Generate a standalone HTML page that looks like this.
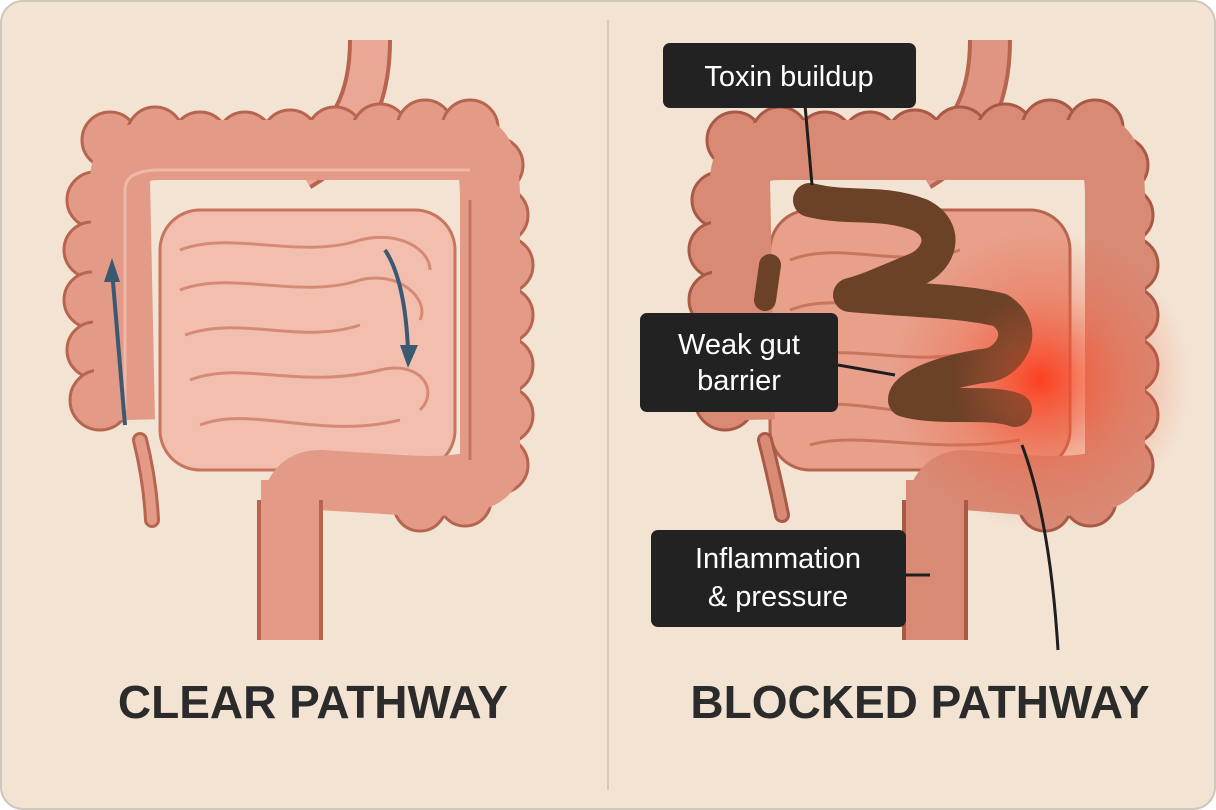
<!DOCTYPE html>
<html><head><meta charset="utf-8"><style>
html,body{margin:0;padding:0;background:#fff;}
svg{display:block}
</style></head><body>
<svg width="1216" height="810" viewBox="0 0 1216 810" xmlns="http://www.w3.org/2000/svg" font-family="Liberation Sans, sans-serif">
<defs>
<radialGradient id="glow" cx="0.5" cy="0.5" r="0.5">
<stop offset="0" stop-color="#ff3a1a" stop-opacity="0.85"/>
<stop offset="0.5" stop-color="#f06040" stop-opacity="0.4"/>
<stop offset="1" stop-color="#f06040" stop-opacity="0"/>
</radialGradient>
<g id="bumpsL">
<circle cx="110" cy="140" r="28"/><circle cx="155" cy="135" r="28"/><circle cx="200" cy="140" r="28"/><circle cx="245" cy="140" r="28"/><circle cx="290" cy="138" r="28"/><circle cx="335" cy="135" r="28"/><circle cx="380" cy="132" r="28"/><circle cx="425" cy="128" r="28"/><circle cx="470" cy="128" r="28"/><circle cx="495" cy="165" r="28"/>
<circle cx="95" cy="200" r="28"/><circle cx="92" cy="250" r="28"/><circle cx="92" cy="300" r="28"/><circle cx="95" cy="350" r="28"/><circle cx="100" cy="400" r="30"/>
<circle cx="500" cy="215" r="28"/><circle cx="505" cy="265" r="28"/><circle cx="505" cy="315" r="28"/><circle cx="505" cy="365" r="28"/><circle cx="505" cy="415" r="28"/><circle cx="500" cy="465" r="28"/><circle cx="465" cy="500" r="26"/><circle cx="420" cy="505" r="26"/>
</g>
</defs>
<rect x="1" y="1" width="1214" height="808" rx="22" fill="#f3e3d3" stroke="#cfc6bc" stroke-width="2"/>
<line x1="608" y1="20" x2="608" y2="790" stroke="#d9c9b8" stroke-width="2"/>

<!-- LEFT -->
<g>
<path d="M370 40 C370 100 350 140 300 170" stroke="#b8654f" stroke-width="44" fill="none"/>
<path d="M370 40 C370 100 350 140 300 170" stroke="#eba796" stroke-width="36" fill="none"/>
<rect x="160" y="210" width="295" height="260" rx="40" fill="#f2bfae" stroke="#c7755f" stroke-width="3"/>
<g stroke="#d58a76" stroke-width="3" fill="none">
<path d="M180 250 C230 230 300 260 360 240 C400 230 430 250 430 270"/>
<path d="M180 290 C230 270 300 300 360 280 C400 270 430 300 420 320"/>
<path d="M185 335 C240 315 300 345 360 325"/>
<path d="M190 380 C240 360 300 390 380 370 C420 360 440 390 420 410"/>
<path d="M200 425 C250 405 320 440 400 420"/>
</g>
<g fill="#e39a87" stroke="#b8654f" stroke-width="3"><use href="#bumpsL"/></g>
<path d="M125 420 L120 180 Q120 150 160 150 L480 150 Q490 160 490 200 L490 470 Q480 490 400 485 L320 480 Q290 480 290 520 L290 640" stroke="#e39a87" stroke-width="60" fill="none" stroke-linejoin="round"/>
<path d="M290 500 L290 640" stroke="#b8654f" stroke-width="66" fill="none"/>
<path d="M290 480 L290 640" stroke="#e39a87" stroke-width="58" fill="none"/>
<path d="M125 410 L125 190 Q125 170 160 170 L470 170" stroke="#f0b8a8" stroke-width="3" fill="none"/>
<path d="M470 200 L470 460" stroke="#c7755f" stroke-width="3" fill="none"/>
<path d="M140 440 Q150 480 152 520" stroke="#b8654f" stroke-width="16" fill="none" stroke-linecap="round"/>
<path d="M140 440 Q150 480 152 520" stroke="#e39a87" stroke-width="10" fill="none" stroke-linecap="round"/>
<path d="M125 425 L112 270" stroke="#3b5a72" stroke-width="4" fill="none"/>
<polygon points="112,258 104,282 120,282" fill="#3b5a72"/>
<path d="M385 250 Q405 280 408 350" stroke="#3b5a72" stroke-width="4" fill="none"/>
<polygon points="408,368 400,345 418,345" fill="#3b5a72"/>
</g>
<text x="313" y="718" text-anchor="middle" font-size="46" font-weight="bold" fill="#2b2b2b">CLEAR PATHWAY</text>

<!-- RIGHT -->
<g>
<path d="M990 40 C990 100 970 140 920 170" stroke="#b8654f" stroke-width="44" fill="none"/>
<path d="M990 40 C990 100 970 140 920 170" stroke="#df9582" stroke-width="36" fill="none"/>
<rect x="770" y="210" width="300" height="260" rx="40" fill="#e8a08b" stroke="#b8654f" stroke-width="3"/>
<g stroke="#c7755f" stroke-width="3" fill="none">
<path d="M790 260 C840 240 900 270 960 250"/>
<path d="M790 310 C840 290 900 320 960 300"/>
<path d="M795 360 C850 340 910 370 980 350"/>
<path d="M800 410 C850 390 930 430 1010 410"/>
<path d="M810 445 C860 430 930 455 1020 440"/>
</g>
<g fill="#d88a75" stroke="#a85a46" stroke-width="3" transform="translate(625,0)"><use href="#bumpsL"/></g>
<path d="M745 420 L740 180 Q740 150 780 150 L1105 150 Q1115 160 1115 200 L1115 470 Q1105 490 1025 485 L965 480 Q935 480 935 520 L935 640" stroke="#d88a75" stroke-width="60" fill="none" stroke-linejoin="round"/>
<path d="M935 500 L935 640" stroke="#a85a46" stroke-width="66" fill="none"/>
<path d="M935 480 L935 640" stroke="#d88a75" stroke-width="58" fill="none"/>
<ellipse cx="1040" cy="380" rx="150" ry="150" fill="url(#glow)"/>
<path d="M765 440 Q775 480 782 515" stroke="#a85a46" stroke-width="16" fill="none" stroke-linecap="round"/>
<path d="M765 440 Q775 480 782 515" stroke="#d88a75" stroke-width="10" fill="none" stroke-linecap="round"/>
<path d="M810 200 C850 210 880 200 920 215 C950 230 940 260 915 270 C890 280 870 290 850 295 C900 300 960 300 1000 310 C1030 330 1010 360 990 365 C950 370 905 385 905 400 C940 410 990 400 1015 410" stroke="#6b4127" stroke-width="34" fill="none" stroke-linecap="round" stroke-linejoin="round"/>
<path d="M770 265 L765 300" stroke="#6b4127" stroke-width="22" fill="none" stroke-linecap="round"/>
<ellipse cx="1040" cy="380" rx="90" ry="90" fill="url(#glow)" opacity="0.6"/>
</g>
<g stroke="#1e1e1e" stroke-width="3" fill="none">
<path d="M805 105 L812 185"/>
<path d="M838 365 L895 375"/>
<path d="M905 575 L930 575"/>
<path d="M1022 445 Q1050 520 1058 650"/>
</g>
<g fill="#222">
<rect x="663" y="43" width="253" height="65" rx="7"/>
<rect x="640" y="313" width="198" height="99" rx="7"/>
<rect x="651" y="530" width="255" height="97" rx="7"/>
</g>
<g fill="#fff" font-size="29" text-anchor="middle">
<text x="789" y="86">Toxin buildup</text>
<text x="739" y="354">Weak gut</text>
<text x="739" y="390">barrier</text>
<text x="778" y="568">Inflammation</text>
<text x="778" y="606">&amp; pressure</text>
</g>
<text x="920" y="718" text-anchor="middle" font-size="46" font-weight="bold" fill="#2b2b2b">BLOCKED PATHWAY</text>
</svg>
</body></html>
